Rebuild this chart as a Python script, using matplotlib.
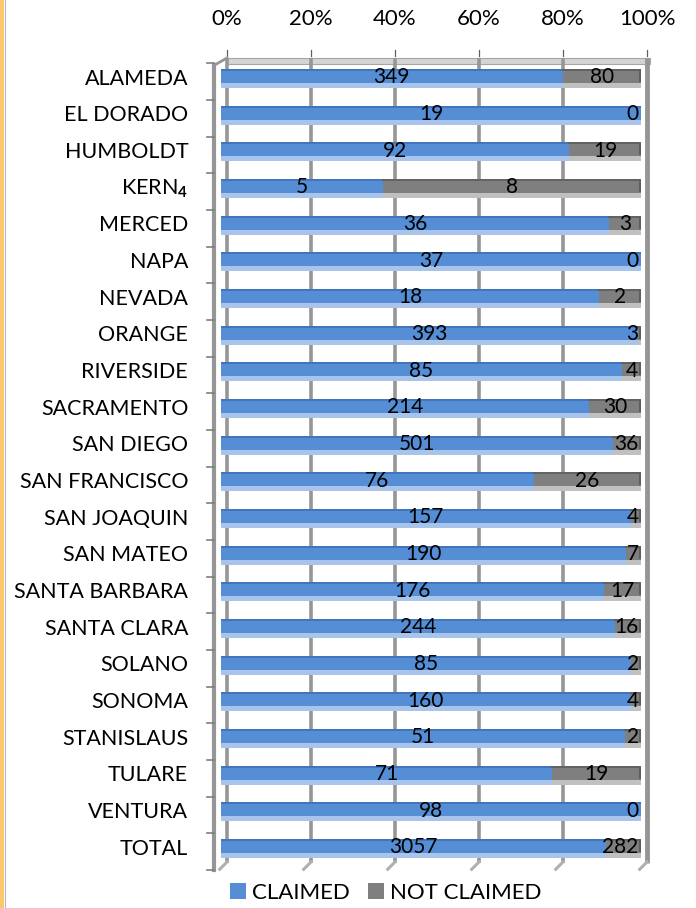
import matplotlib
matplotlib.use('Agg')
import matplotlib.pyplot as plt
from matplotlib.patches import Patch, Rectangle
from matplotlib.lines import Line2D

plt.rcParams['font.family'] = ['Lato', 'DejaVu Sans']
plt.rcParams['mathtext.fontset'] = 'custom'
plt.rcParams['mathtext.rm'] = 'Lato'
plt.rcParams['mathtext.bf'] = 'Lato:bold'

counties = ['ALAMEDA', 'EL DORADO', 'HUMBOLDT', r'KERN$_\mathbf{4}$', 'MERCED', 'NAPA',
            'NEVADA', 'ORANGE', 'RIVERSIDE', 'SACRAMENTO', 'SAN DIEGO',
            'SAN FRANCISCO', 'SAN JOAQUIN', 'SAN MATEO', 'SANTA BARBARA',
            'SANTA CLARA', 'SOLANO', 'SONOMA', 'STANISLAUS', 'TULARE',
            'VENTURA', 'TOTAL']
claimed = [349, 19, 92, 5, 36, 37, 18, 393, 85, 214, 501, 76, 157, 190, 176,
           244, 85, 160, 51, 71, 98, 3057]
not_claimed = [80, 0, 19, 8, 3, 0, 2, 3, 4, 30, 36, 26, 4, 7, 17, 16, 2, 4,
               2, 19, 0, 282]
pct_ticks = [0, 20, 40, 60, 80, 100]

blue = '#558ED5'
blue_dark = '#3F72B8'
blue_light = '#A9C4EA'
gray = '#7F7F7F'
gray_dark = '#5E5E5E'
gray_light = '#C0C0C0'
wall = '#969696'

W, H = 696, 908
fig = plt.figure(figsize=(W / 100, H / 100), dpi=100)
row_px = 36.67
ax_l, ax_r, ax_t, ax_b = 221, 641, 58, 870
span = ax_r - ax_l
ax = fig.add_axes([ax_l / W, (H - ax_b) / H, span / W, (ax_b - ax_t) / H])
n = len(counties)
ax.set_xlim(0, 1)
ax.set_ylim((ax_b - 848) / row_px + n - 1, -(78 - ax_t) / row_px)
ax.axis('off')

dx = 6 / span          # back-wall offset (3D look)
dy = 6 / row_px
y_top = ax.get_ylim()[1]
y_bot = ax.get_ylim()[0]

# top wall and back gridlines
ax.add_patch(Rectangle((dx, y_top), 1 + 0.5 * dx, dy, facecolor='#D4D4D4',
                       edgecolor='#A6A6A6', lw=0.8, clip_on=False, zorder=1))
for p in pct_ticks:
    xg = p / 100 + dx
    lw = 3.5 if p == 100 else 2.6
    ax.plot([xg, xg], [y_top, y_bot - 0.2], color=wall, lw=lw, solid_capstyle='butt',
            clip_on=False, zorder=1)
    ax.plot([xg, xg], [y_top - 0.05, y_top - 0.22], color='#606060', lw=0.9,
            clip_on=False, zorder=1)
    ax.text(xg, y_top - 1.05, f'{p}%', ha='center', va='center', fontsize=16,
            clip_on=False)
    # bottom stubs
    ax.plot([p / 100 - 0.003, p / 100 + dx], [y_bot - 0.02, y_bot - 0.22],
            color='#B0B0B0', lw=2.2, clip_on=False, zorder=1)

# left wall
xl = -7 / span
ax.plot([xl, xl], [y_top + 0.2, y_bot], color=wall, lw=3, clip_on=False, zorder=2)
ax.plot([xl, dx], [y_top + 0.2, y_top], color=wall, lw=2, clip_on=False, zorder=2)
for i in range(n + 1):
    yt = i - 0.5 + 0.1
    ax.plot([xl - 0.016, xl], [yt, yt], color='#808080', lw=1.2, clip_on=False)

# bars
for i in range(n):
    tot = claimed[i] + not_claimed[i]
    fc = claimed[i] / tot
    fn = not_claimed[i] / tot
    top, mid, bot = i - 0.245, i + 0.136, i + 0.27
    ax.barh(i + 0.203, fc, height=bot - mid, left=0, color=blue_light, zorder=3)
    ax.barh(i + 0.203, fn, height=bot - mid, left=fc, color=gray_light, zorder=3)
    ax.barh((top + mid) / 2, fc, height=mid - top, left=0, color=blue, zorder=4)
    ax.barh((top + mid) / 2, fn, height=mid - top, left=fc, color=gray, zorder=4)
    ax.plot([0, fc], [top + 0.03, top + 0.03], color=blue_dark, lw=1.2, zorder=5)
    if fn > 0:
        ax.plot([fc, 1], [top + 0.03, top + 0.03], color=gray_dark, lw=1.2, zorder=5)
        ax.plot([0.997, 0.997], [top + 0.05, mid - 0.05], color=gray_dark, lw=1.5, zorder=5)
    yc = i - 0.02
    ax.text(fc / 2, yc, str(claimed[i]), ha='center', va='center', fontsize=15,
            zorder=6)
    # keep the not-claimed label inside the bar end
    half_w = len(str(not_claimed[i])) * 6.4 / span
    xn = min(fc + fn / 2, 1 - 2 / span - half_w)
    ax.text(xn, yc, str(not_claimed[i]), ha='center', va='center', fontsize=15,
            zorder=6)
    ax.text(-0.078, i + 0.02, counties[i], ha='right', va='center', fontsize=15.5,
            clip_on=False)

# orange frame edge on the left
fig.add_artist(Rectangle((0, 0), 4 / W, 1, transform=fig.transFigure,
                         facecolor='#FFC96B', edgecolor='none'))
fig.add_artist(Line2D([5 / W, 5 / W], [0, 1], transform=fig.transFigure,
                      color='#B8B8B8', lw=0.8))

handles = [Patch(facecolor=blue, label='CLAIMED'),
           Patch(facecolor=gray, label='NOT CLAIMED')]
fig.legend(handles=handles, loc='center', bbox_to_anchor=(386 / W, 15 / H),
           ncol=2, frameon=False, fontsize=16, handlelength=0.7,
           handleheight=0.7, handletextpad=0.3, columnspacing=0.8)

fig.savefig('out.png', dpi=100)
